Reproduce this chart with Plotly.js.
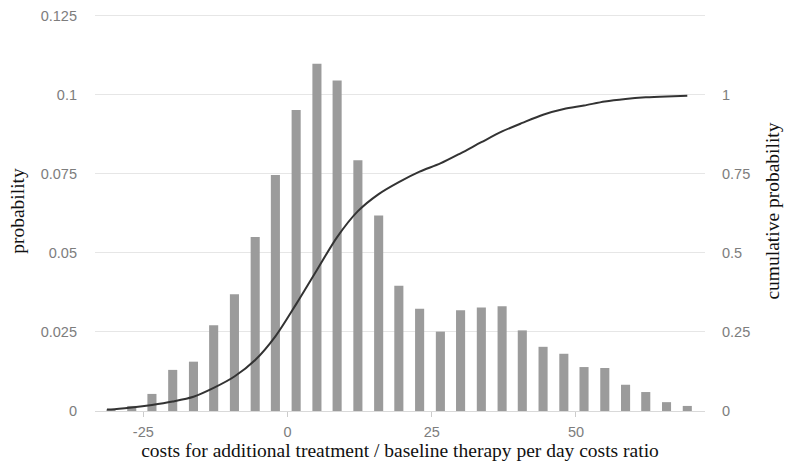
<!DOCTYPE html>
<html>
<head>
<meta charset="utf-8">
<script src="https://cdn.plot.ly/plotly-3.0.1.min.js"></script>
<style>html,body{margin:0;padding:0;background:#fff;}#chart{width:788px;height:463px;}</style>
</head>
<body>
<div id="chart"></div>
<script>
// bar centres (costs ratio) and probabilities
var binCenters = [-30.6, -27.0, -23.5, -19.9, -16.3, -12.8, -9.2, -5.6, -2.1, 1.5,
                  5.1, 8.6, 12.2, 15.8, 19.3, 22.9, 26.5, 30.0, 33.6, 37.2,
                  40.7, 44.3, 47.9, 51.4, 55.0, 58.6, 62.1, 65.7, 69.3];
var probability = [0.0005, 0.0016, 0.0054, 0.0130, 0.0156, 0.0271, 0.0369, 0.0550, 0.0746, 0.0952,
                   0.1098, 0.1045, 0.0793, 0.0618, 0.0396, 0.0323, 0.0251, 0.0319, 0.0327, 0.0331,
                   0.0255, 0.0203, 0.0181, 0.0139, 0.0136, 0.0083, 0.0060, 0.0028, 0.0016];
// cumulative probability curve
var cumX = [-31.3, -30.6, -27.0, -23.5, -19.9, -16.3, -12.8, -9.2, -5.6, -2.1, 1.5,
            5.1, 8.6, 12.2, 15.8, 19.3, 22.9, 26.5, 30.0, 33.6, 37.2,
            40.7, 44.3, 47.9, 51.4, 55.0, 58.6, 62.1, 65.7, 69.3];
var cumY = [0.005, 0.005, 0.011, 0.019, 0.030, 0.045, 0.073, 0.109, 0.161, 0.236, 0.338,
            0.446, 0.550, 0.632, 0.686, 0.724, 0.757, 0.783, 0.815, 0.850, 0.884,
            0.911, 0.937, 0.955, 0.966, 0.979, 0.987, 0.992, 0.995, 0.997];
var xTicks = [-25, 0, 25, 50];
var yTicks = [0, 0.025, 0.05, 0.075, 0.1, 0.125];
var yTickText = ["0", "0.025", "0.05", "0.075", "0.1", "0.125"];
var y2Ticks = [0, 0.25, 0.5, 0.75, 1];
var y2TickText = ["0", "0.25", "0.5", "0.75", "1"];

var tickFont = {family: "Liberation Sans, Arial, sans-serif", size: 14.5, color: "#7d7d7d"};
var titleFont = {family: "Liberation Serif, Times New Roman, serif", size: 19.5, color: "#111"};

var data = [
  {type: "bar", x: binCenters, y: probability, marker: {color: "#9b9b9b"}, hoverinfo: "x+y"},
  {type: "scatter", mode: "lines", x: cumX, y: cumY, yaxis: "y2",
   line: {color: "#333333", width: 2, shape: "spline", smoothing: 0.8}}
];
var layout = {
  width: 788, height: 463,
  margin: {l: 95, r: 83, t: 11, b: 52},
  paper_bgcolor: "#fff", plot_bgcolor: "#fff",
  showlegend: false,
  bargap: 0.55,
  xaxis: {
    range: [-33.37, 72.37],
    tickvals: xTicks, ticktext: xTicks.map(String),
    ticks: "outside", ticklen: 5, tickcolor: "#cccccc", tickwidth: 1,
    ticklabelstandoff: 3,
    showgrid: false, zeroline: false, showline: false,
    tickfont: tickFont,
    title: {text: "costs for additional treatment / baseline therapy per day costs ratio", font: titleFont, standoff: 2}
  },
  yaxis: {
    range: [0, 0.1265],
    tickvals: yTicks, ticktext: yTickText,
    showgrid: true, gridcolor: "#e6e6e6", gridwidth: 1,
    zeroline: true, zerolinecolor: "#d9d9d9", zerolinewidth: 1,
    showline: false, ticks: "",
    ticklabelstandoff: 17,
    tickfont: tickFont,
    title: {text: "probability", font: titleFont, standoff: 10}
  },
  yaxis2: {
    overlaying: "y", side: "right",
    range: [0, 1.265],
    tickvals: y2Ticks, ticktext: y2TickText,
    showgrid: false, zeroline: false, showline: false, ticks: "",
    ticklabelstandoff: 16,
    tickfont: tickFont,
    title: {text: "cumulative probability", font: titleFont, standoff: 16}
  }
};
Plotly.newPlot("chart", data, layout, {displayModeBar: false, staticPlot: true});
</script>
</body>
</html>
